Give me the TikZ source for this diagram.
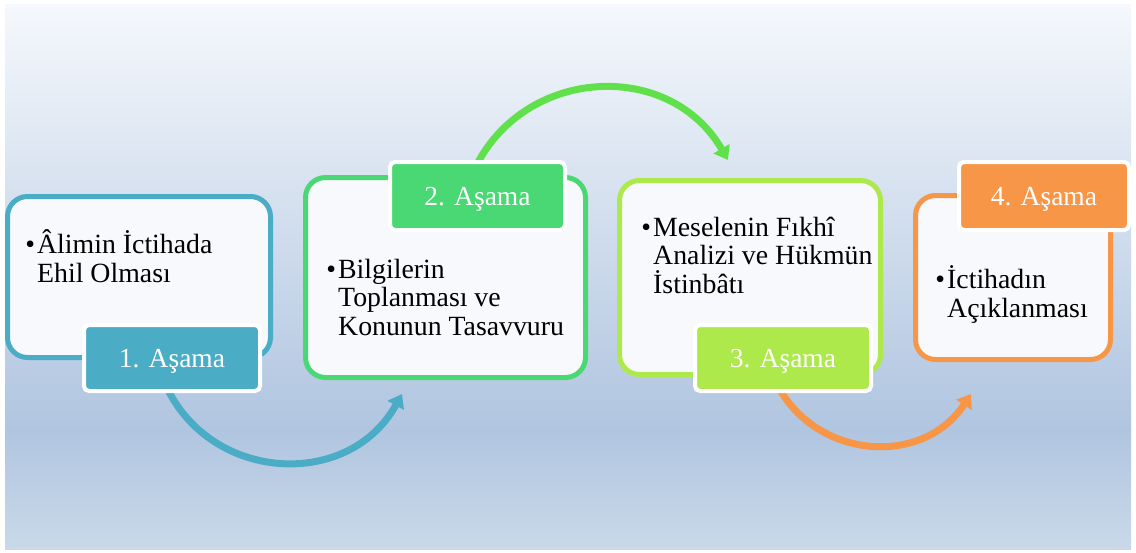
\documentclass[tikz,border=0pt]{standalone}
\usepackage{fontspec}
\setmainfont{Liberation Serif}
\usetikzlibrary{arrows.meta}
\definecolor{cblue}{HTML}{4BACC6}
\definecolor{cgreen}{HTML}{4AD874}
\definecolor{cgarrow}{HTML}{60E14B}
\definecolor{clime}{HTML}{AEE94C}
\definecolor{corange}{HTML}{F79646}
\definecolor{boxfill}{HTML}{F8F9FC}
\definecolor{bgtop}{HTML}{F5F8FC}
\definecolor{bgmid}{HTML}{B0C5E0}
\definecolor{bgbot}{HTML}{C9D9E9}
\tikzset{
  stagebox/.style={draw, line width=5pt, fill=boxfill, rounded corners=20pt, inner sep=0pt},
  labelbox/.style={draw=white, line width=4pt, rounded corners=5pt, inner sep=0pt, text=white,
    font=\fontsize{27.5pt}{28.5pt}\selectfont, text depth=0pt},
  bodytext/.style={anchor=base west, inner sep=0pt, align=left, text=black,
    font=\fontsize{27.8pt}{28.5pt}\selectfont},
  flow/.style={line width=7pt, -{Triangle[length=13pt,width=18pt]}}
}
\newcommand{\bul}{\llap{•\hspace{2pt}}}
\begin{document}
\begin{tikzpicture}[x=1pt,y=-1pt]
\useasboundingbox (0,0) rectangle (1136,552);
\shade[top color=bgtop, bottom color=bgmid] (5,4) rectangle (1131,430);
\shade[top color=bgmid, bottom color=bgbot] (5,429.5) rectangle (1131,549);

% arrow end points
\coordinate (a1s) at (161.5,374.8);
\coordinate (a1e) at (402,394);
\coordinate (a2s) at (468.9,182.6);
\coordinate (a2e) at (728,160);
\coordinate (a3s) at (771.1,370.8);
\coordinate (a3e) at (971,394);

\draw[flow, draw=cblue] (a1s) .. controls +(38.9,106.8) and +(-55.1,99.4) .. (a1e);
\draw[flow, draw=cgarrow] (a2s) .. controls +(41.8,-114.8) and +(-61.2,-105.6) .. (a2e);
\draw[flow, draw=corange] (a3s) .. controls +(31.7,87.1) and +(-50.9,77.5) .. (a3e);

% stage boxes
\node[stagebox, draw=cblue, minimum width=263pt, minimum height=161pt] (b1) at (139,277) {};
\node[stagebox, draw=cgreen, minimum width=280pt, minimum height=200pt] (b2) at (445.5,277.5) {};
\node[stagebox, draw=clime, minimum width=261pt, minimum height=194pt] (b3) at (750,277.5) {};
\node[stagebox, draw=corange, minimum width=195pt, minimum height=164pt] (b4) at (1013,277.5) {};

% labels
\node[labelbox, fill=cblue, minimum width=176pt, minimum height=66pt] (l1) at (172,358) {1. Aşama};
\node[labelbox, fill=cgreen, minimum width=175pt, minimum height=68pt] (l2) at (477.5,196) {2. Aşama};
\node[labelbox, fill=clime, minimum width=176pt, minimum height=66pt] (l3) at (783,358) {3. Aşama};
\node[labelbox, fill=corange, minimum width=170pt, minimum height=68pt] (l4) at (1044,196) {4. Aşama};

% body texts (anchor = baseline of last line)
\node[bodytext] (t1) at (37,282) {\bul Âlimin İctihada\\Ehil Olması};
\node[bodytext] (t2) at (338,335) {\bul Bilgilerin\\Toplanması ve\\Konunun Tasavvuru};
\node[bodytext] (t3) at (653,293) {\bul Meselenin Fıkhî\\Analizi ve Hükmün\\İstinbâtı};
\node[bodytext] (t4) at (947,317) {\bul İctihadın\\Açıklanması};
\end{tikzpicture}
\end{document}
